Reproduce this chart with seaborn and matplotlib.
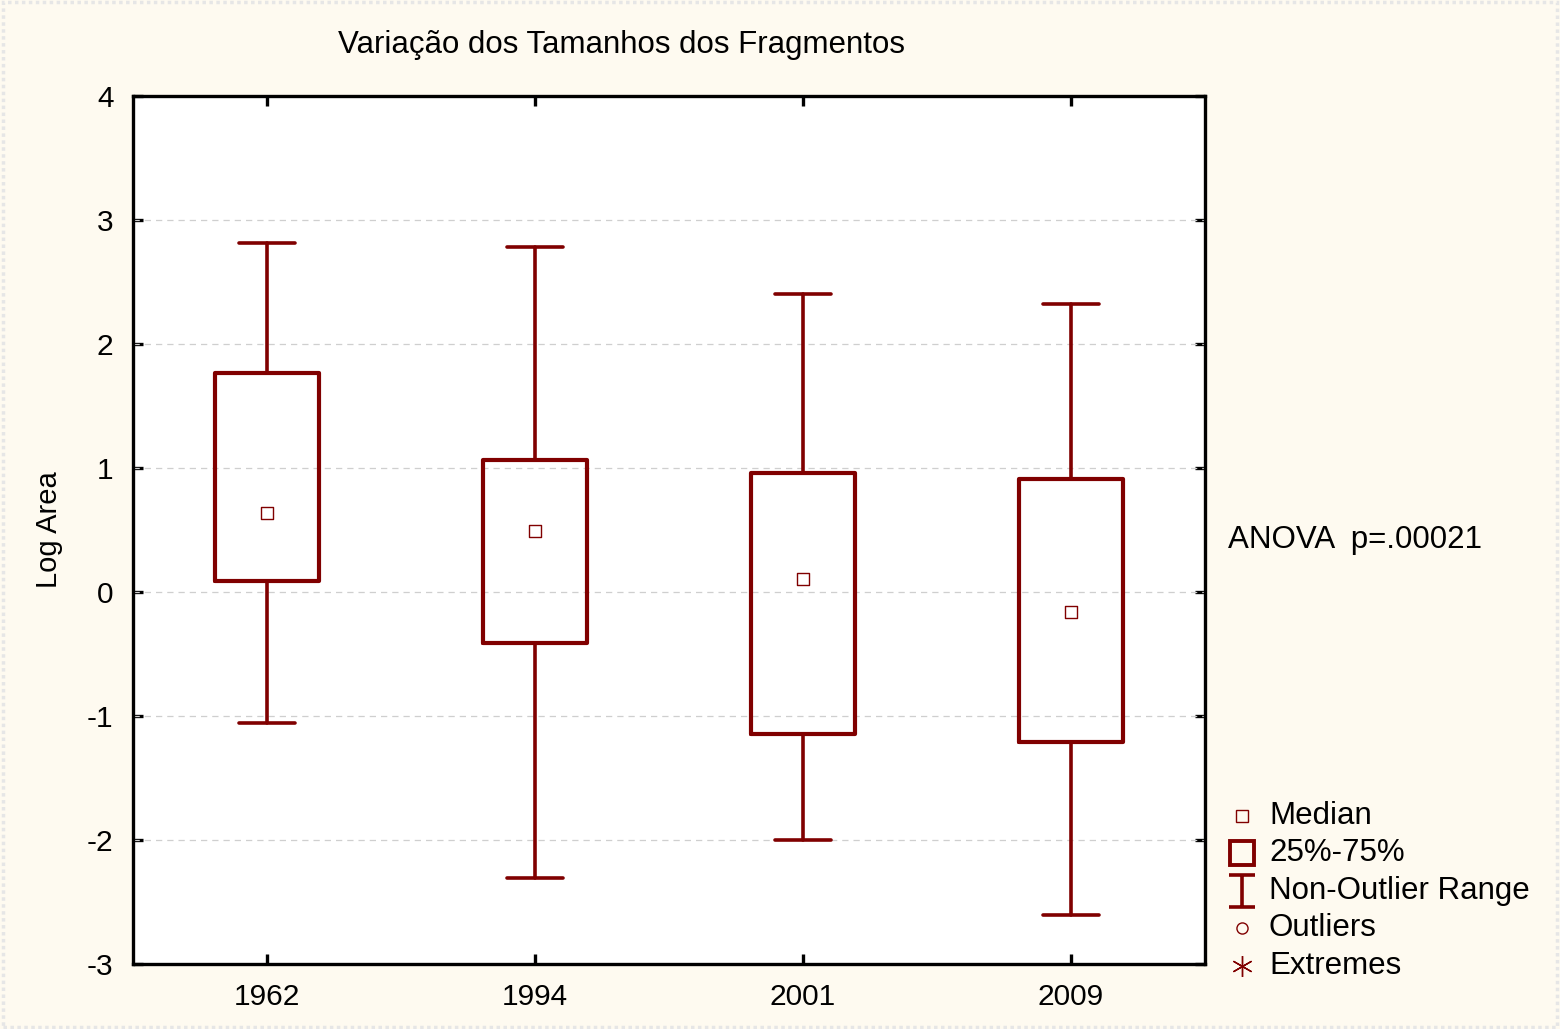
import matplotlib
matplotlib.use("Agg")
import matplotlib.pyplot as plt
import seaborn as sns
import pandas as pd
from matplotlib.lines import Line2D
from matplotlib.patches import Rectangle
from matplotlib.path import Path

# ---- data ----
years = ["1962", "1994", "2001", "2009"]
medians = [0.637, 0.492, 0.105, -0.161]
q1 = [0.089, -0.411, -1.145, -1.210]
q3 = [1.766, 1.065, 0.960, 0.911]
whisk_low = [-1.056, -2.306, -2.000, -2.605]
whisk_high = [2.815, 2.780, 2.400, 2.320]
yticks = [-3, -2, -1, 0, 1, 2, 3, 4]

title = "Variação dos Tamanhos dos Fragmentos"
ylabel = "Log Area"
anova_text = "ANOVA  p=.00021"
legend_labels = ["Median", "25%-75%", "Non-Outlier Range", "Outliers", "Extremes"]

RED = "#800000"
BG = "#FEFAF0"

sns.set_theme(style="white")
plt.rcParams["font.family"] = ["Liberation Sans", "DejaVu Sans"]
plt.rcParams["text.color"] = "black"
plt.rcParams["axes.labelcolor"] = "black"
plt.rcParams["xtick.color"] = "black"
plt.rcParams["ytick.color"] = "black"

W, H = 1560, 1029
fig = plt.figure(figsize=(W / 100, H / 100), dpi=100, facecolor=BG)
ax = fig.add_axes([133 / W, 1 - 964 / H, (1205 - 133) / W, (964 - 96) / H])
ax.set_facecolor("white")

stats = []
for i, y in enumerate(years):
    stats.append(dict(label=y, med=medians[i], q1=q1[i], q3=q3[i],
                      whislo=whisk_low[i], whishi=whisk_high[i], fliers=[]))
ax.bxp(stats, positions=range(len(years)), widths=0.39, showfliers=False,
       boxprops=dict(color=RED, linewidth=3.0),
       whiskerprops=dict(color=RED, linewidth=2.6),
       capprops=dict(color=RED, linewidth=2.6),
       medianprops=dict(linewidth=0),
       capwidths=0.21, manage_ticks=False, zorder=3)

med_df = pd.DataFrame({"pos": range(len(years)), "median": medians})
sns.scatterplot(data=med_df, x="pos", y="median", marker="s", s=80,
                facecolor="white", edgecolor=RED, linewidth=1.0, ax=ax, zorder=4)

ax.set_xlim(-0.5, len(years) - 0.5)
ax.set_ylim(-3, 4)
ax.set_xticks(range(len(years)))
ax.set_xticklabels(years)
ax.set_yticks(yticks)
ax.set_yticklabels([str(t) for t in yticks])
ax.set_xlabel("")
ax.set_ylabel(ylabel, fontsize=21, labelpad=17)
for yv in yticks[1:-1]:
    ax.axhline(yv, color="#cfcfcf", linestyle=(0, (5, 4)), linewidth=0.9, zorder=1)

for s in ax.spines.values():
    s.set_color("black")
    s.set_linewidth(2.4)
ax.tick_params(axis="both", direction="in", length=7, width=2.4, color="black",
               labelsize=21.5, top=True, right=True, bottom=True, left=True,
               pad=14)
ax.tick_params(axis="y", pad=14)

fig.text(622 / W, 1 - 45 / H, title, ha="center", va="center", fontsize=22.5)
fig.text(1228 / W, 1 - 540 / H, anova_text, ha="left", va="center", fontsize=22.5)

# legend drawn in figure pixel space
ibeam = Path([(-0.4, 0.5), (0.4, 0.5), (0, 0.5), (0, -0.5), (-0.4, -0.5), (0.4, -0.5)],
             [Path.MOVETO, Path.LINETO, Path.MOVETO, Path.LINETO, Path.MOVETO, Path.LINETO])
leg_y = [816, 853, 891, 928, 966]
markers = [
    dict(marker="s", markersize=8, mfc="none", mec=RED, mew=1.0),
    dict(marker="s", markersize=17, mfc="none", mec=RED, mew=2.8),
    dict(marker=ibeam, markersize=23, mfc="none", mec=RED, mew=2.6),
    dict(marker="o", markersize=8, mfc="none", mec=RED, mew=1.0),
    dict(marker=(6, 2, 0), markersize=15, mfc="none", mec=RED, mew=1.0),
]
for yy, lab, mk in zip(leg_y, legend_labels, markers):
    fig.add_artist(Line2D([1242 / W], [1 - yy / H], linestyle="none", **mk))
    fig.text(1269 / W, 1 - yy / H, lab, ha="left", va="center", fontsize=22.5)

fig.add_artist(Rectangle((0.002, 0.002), 0.996, 0.996, transform=fig.transFigure,
                         fill=False, edgecolor="#e6e6e6", linewidth=2.5,
                         linestyle=(0, (1, 1))))

fig.savefig("out.png", dpi=100, facecolor=BG)
